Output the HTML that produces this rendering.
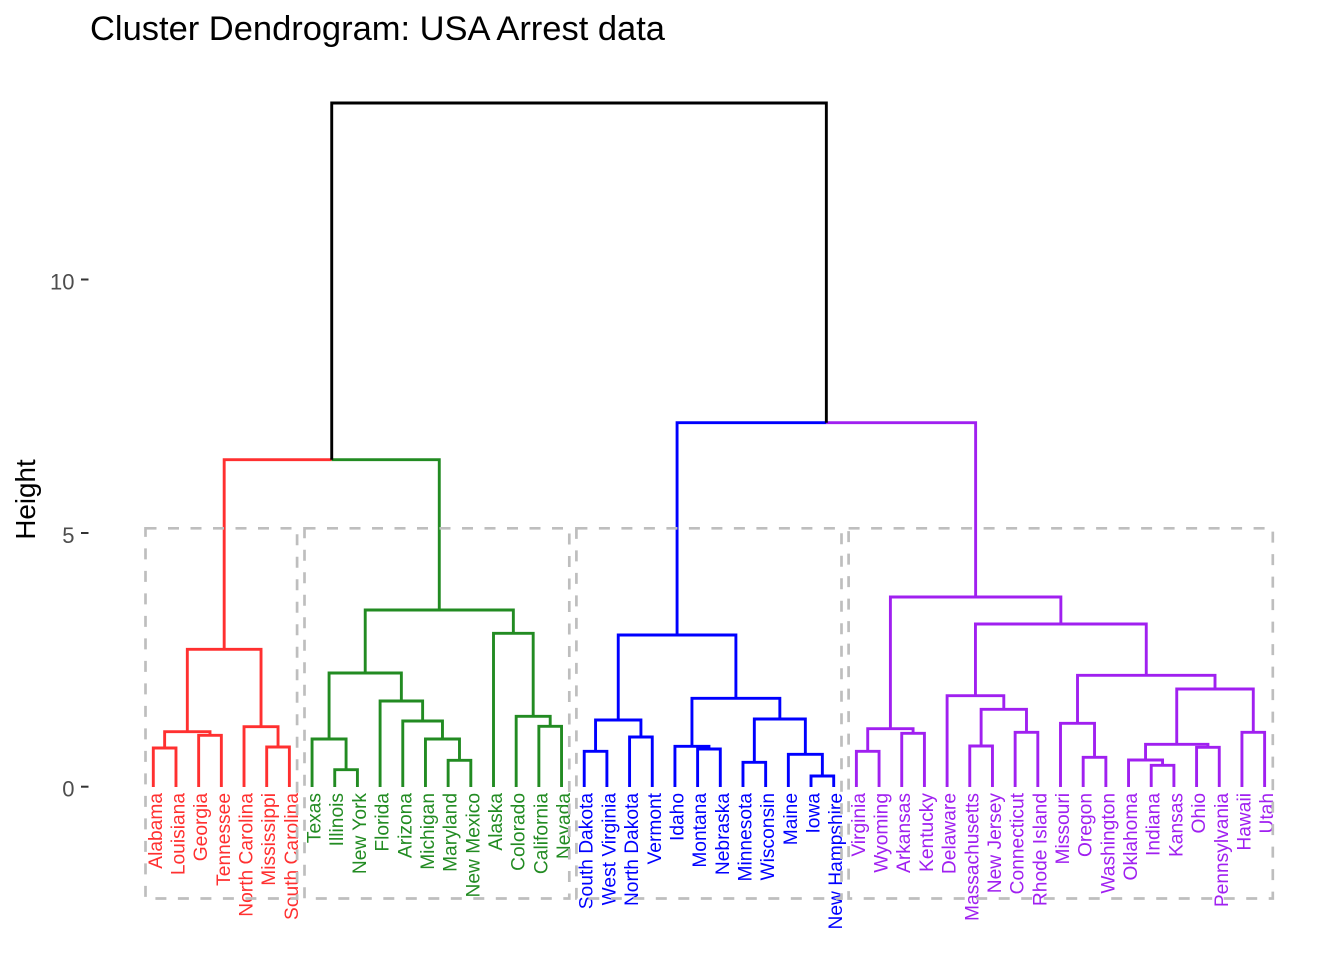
<!DOCTYPE html>
<html>
<head>
<meta charset="utf-8">
<style>
  html, body { margin: 0; padding: 0; background: #ffffff; }
  svg { display: block; }
  text { font-family: "Liberation Sans", Arial, sans-serif; }
</style>
</head>
<body>
<svg width="1344" height="960" viewBox="0 0 1344 960" xmlns="http://www.w3.org/2000/svg">
  <rect x="0" y="0" width="1344" height="960" fill="#ffffff"/>

  <!-- Title -->
  <text x="90" y="40" font-size="34" fill="#000000" textLength="575" lengthAdjust="spacingAndGlyphs">Cluster Dendrogram: USA Arrest data</text>

  <!-- Y axis title -->
  <text transform="translate(35,499.5) rotate(-90)" text-anchor="middle" font-size="27.8" fill="#000000">Height</text>

  <!-- Y ticks -->
  <g stroke="#333333" stroke-width="2">
    <line x1="81" y1="279.5" x2="88.5" y2="279.5"/>
    <line x1="81" y1="533" x2="88.5" y2="533"/>
    <line x1="81" y1="786.7" x2="88.5" y2="786.7"/>
  </g>
  <g font-size="22" fill="#4D4D4D" text-anchor="end">
    <text x="74.5" y="289.3">10</text>
    <text x="74.5" y="542.8">5</text>
    <text x="74.5" y="796.6">0</text>
  </g>

  <!-- Dendrogram segments -->
  <g fill="none" stroke-width="2.9" stroke-linecap="butt" stroke-linejoin="miter">
    <!-- Red -->
    <g stroke="#FF3030">
      <path d="M153.3 787V748H175.98V787"/>
      <path d="M198.66 787V735.3H221.34V787"/>
      <path d="M164.64 748V731.7H210V735.3"/>
      <path d="M266.7 787V747H289.38V787"/>
      <path d="M244.02 787V726.7H278.04V747"/>
      <path d="M187.32 731.7V649.3H261.03V726.7"/>
      <path d="M224.18 649.3V459.7H331.73"/>
    </g>
    <!-- Green -->
    <g stroke="#228B22">
      <path d="M334.74 787V769.7H357.42V787"/>
      <path d="M312.06 787V739H346.08V769.7"/>
      <path d="M448.14 787V760.3H470.82V787"/>
      <path d="M425.46 787V739H459.48V760.3"/>
      <path d="M402.78 787V721H442.47V739"/>
      <path d="M380.1 787V701H422.63V721"/>
      <path d="M329.07 739V673H401.36V701"/>
      <path d="M538.86 787V726.3H561.54V787"/>
      <path d="M516.18 787V716.3H550.2V726.3"/>
      <path d="M493.5 787V633.3H533.19V716.3"/>
      <path d="M365.22 673V610H513.35V633.3"/>
      <path d="M439.28 610V459.7H331.73"/>
    </g>
    <!-- Blue -->
    <g stroke="#0000FF">
      <path d="M584.22 787V751.3H606.9V787"/>
      <path d="M629.58 787V737H652.26V787"/>
      <path d="M595.56 751.3V720H640.92V737"/>
      <path d="M697.62 787V749H720.3V787"/>
      <path d="M674.94 787V746.3H708.96V749"/>
      <path d="M742.98 787V762.3H765.66V787"/>
      <path d="M811.02 787V776H833.7V787"/>
      <path d="M788.34 787V754.3H822.36V776"/>
      <path d="M754.32 762.3V719H805.35V754.3"/>
      <path d="M691.95 746.3V698.3H779.84V719"/>
      <path d="M618.24 720V635H735.9V698.3"/>
      <path d="M677.07 635V422.7H826.35"/>
    </g>
    <!-- Purple -->
    <g stroke="#A020F0">
      <path d="M856.38 787V751.3H879.06V787"/>
      <path d="M901.74 787V733.3H924.42V787"/>
      <path d="M867.72 751.3V728.7H913.08V733.3"/>
      <path d="M969.78 787V746H992.46V787"/>
      <path d="M1015.14 787V732.3H1037.82V787"/>
      <path d="M981.12 746V709.3H1026.48V732.3"/>
      <path d="M947.1 787V695.7H1003.8V709.3"/>
      <path d="M1083.18 787V757.3H1105.86V787"/>
      <path d="M1060.5 787V723.3H1094.52V757.3"/>
      <path d="M1151.22 787V765.3H1173.9V787"/>
      <path d="M1128.54 787V760H1162.56V765.3"/>
      <path d="M1196.58 787V747.3H1219.26V787"/>
      <path d="M1145.55 760V744.3H1207.92V747.3"/>
      <path d="M1241.94 787V732.3H1264.62V787"/>
      <path d="M1176.74 744.3V689H1253.28V732.3"/>
      <path d="M1077.51 723.3V675.3H1215.01V689"/>
      <path d="M975.45 695.7V624H1146.26V675.3"/>
      <path d="M890.4 728.7V597H1060.86V624"/>
      <path d="M975.63 597V422.7H826.35"/>
    </g>
    <!-- Black root -->
    <path stroke="#000000" d="M331.73 459.7V103H826.35V422.7"/>
  </g>

  <!-- Leaf labels -->
  <g font-size="19.2" text-anchor="end">
    <g fill="#FF3030">
      <text transform="translate(161.8,793) rotate(-90)">Alabama</text>
      <text transform="translate(184.48,793) rotate(-90)">Louisiana</text>
      <text transform="translate(207.16,793) rotate(-90)">Georgia</text>
      <text transform="translate(229.84,793) rotate(-90)">Tennessee</text>
      <text transform="translate(252.52,793) rotate(-90)">North Carolina</text>
      <text transform="translate(275.2,793) rotate(-90)">Mississippi</text>
      <text transform="translate(297.88,793) rotate(-90)">South Carolina</text>
    </g>
    <g fill="#228B22">
      <text transform="translate(320.56,793) rotate(-90)">Texas</text>
      <text transform="translate(343.24,793) rotate(-90)">Illinois</text>
      <text transform="translate(365.92,793) rotate(-90)">New York</text>
      <text transform="translate(388.6,793) rotate(-90)">Florida</text>
      <text transform="translate(411.28,793) rotate(-90)">Arizona</text>
      <text transform="translate(433.96,793) rotate(-90)">Michigan</text>
      <text transform="translate(456.64,793) rotate(-90)">Maryland</text>
      <text transform="translate(479.32,793) rotate(-90)">New Mexico</text>
      <text transform="translate(502,793) rotate(-90)">Alaska</text>
      <text transform="translate(524.68,793) rotate(-90)">Colorado</text>
      <text transform="translate(547.36,793) rotate(-90)">California</text>
      <text transform="translate(570.04,793) rotate(-90)">Nevada</text>
    </g>
    <g fill="#0000FF">
      <text transform="translate(592.72,793) rotate(-90)">South Dakota</text>
      <text transform="translate(615.4,793) rotate(-90)">West Virginia</text>
      <text transform="translate(638.08,793) rotate(-90)">North Dakota</text>
      <text transform="translate(660.76,793) rotate(-90)">Vermont</text>
      <text transform="translate(683.44,793) rotate(-90)">Idaho</text>
      <text transform="translate(706.12,793) rotate(-90)">Montana</text>
      <text transform="translate(728.8,793) rotate(-90)">Nebraska</text>
      <text transform="translate(751.48,793) rotate(-90)">Minnesota</text>
      <text transform="translate(774.16,793) rotate(-90)">Wisconsin</text>
      <text transform="translate(796.84,793) rotate(-90)">Maine</text>
      <text transform="translate(819.52,793) rotate(-90)">Iowa</text>
      <text transform="translate(842.2,793) rotate(-90)">New Hampshire</text>
    </g>
    <g fill="#A020F0">
      <text transform="translate(864.88,793) rotate(-90)">Virginia</text>
      <text transform="translate(887.56,793) rotate(-90)">Wyoming</text>
      <text transform="translate(910.24,793) rotate(-90)">Arkansas</text>
      <text transform="translate(932.92,793) rotate(-90)">Kentucky</text>
      <text transform="translate(955.6,793) rotate(-90)">Delaware</text>
      <text transform="translate(978.28,793) rotate(-90)">Massachusetts</text>
      <text transform="translate(1000.96,793) rotate(-90)">New Jersey</text>
      <text transform="translate(1023.64,793) rotate(-90)">Connecticut</text>
      <text transform="translate(1046.32,793) rotate(-90)">Rhode Island</text>
      <text transform="translate(1069,793) rotate(-90)">Missouri</text>
      <text transform="translate(1091.68,793) rotate(-90)">Oregon</text>
      <text transform="translate(1114.36,793) rotate(-90)">Washington</text>
      <text transform="translate(1137.04,793) rotate(-90)">Oklahoma</text>
      <text transform="translate(1159.72,793) rotate(-90)">Indiana</text>
      <text transform="translate(1182.4,793) rotate(-90)">Kansas</text>
      <text transform="translate(1205.08,793) rotate(-90)">Ohio</text>
      <text transform="translate(1227.76,793) rotate(-90)">Pennsylvania</text>
      <text transform="translate(1250.44,793) rotate(-90)">Hawaii</text>
      <text transform="translate(1273.12,793) rotate(-90)">Utah</text>
    </g>
  </g>

  <!-- Dashed cluster rectangles -->
  <g fill="none" stroke="#BEBEBE" stroke-width="2.7" stroke-dasharray="11 11.5" stroke-linecap="butt">
    <path d="M145.5 528.3H297.1V898.5H145.5Z"/>
    <path d="M304.5 528.3H569.3V898.5H304.5Z"/>
    <path d="M576.4 528.3H841.5V898.5H576.4Z"/>
    <path d="M848.6 528.3H1272.8V898.5H848.6Z"/>
  </g>
</svg>
</body>
</html>
